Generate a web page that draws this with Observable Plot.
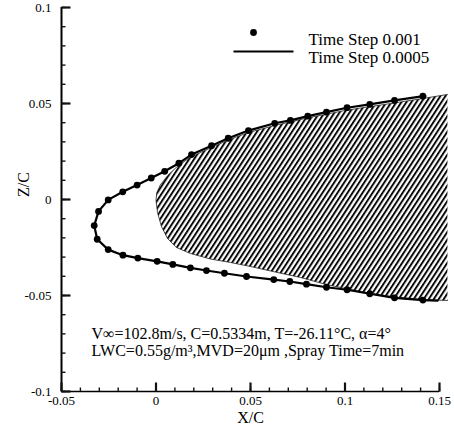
<!DOCTYPE html>
<html><head><meta charset="utf-8">
<script src="https://cdn.jsdelivr.net/npm/d3@7"></script>
<script src="https://cdn.jsdelivr.net/npm/@observablehq/plot@0.6"></script>
<style>
body{margin:0;background:#fff;}
#chart svg{display:block;}
#chart svg text{font-family:'Liberation Serif','Times New Roman',serif;}
</style></head><body><div id="chart"></div>
<script>
// Ice shape, Time Step 0.001 (points)
const iceX = [0.1412, 0.1262, 0.1131, 0.1011, 0.0902, 0.0803, 0.0711, 0.0628, 0.0489, 0.0382, 0.0294, 0.0188, 0.0121, 0.0046, -0.0025, -0.0100, -0.0176, -0.0253, -0.0304, -0.0327, -0.0311, -0.0253, -0.0175, -0.0096, 0.0006, 0.0089, 0.0182, 0.0267, 0.0362, 0.0479, 0.0623, 0.0708, 0.0796, 0.0902, 0.1011, 0.1131, 0.1262, 0.1412];
const iceZ = [0.0538, 0.0516, 0.0495, 0.0478, 0.0455, 0.0434, 0.0412, 0.0397, 0.0359, 0.0319, 0.0280, 0.0234, 0.0189, 0.0147, 0.0112, 0.0075, 0.0040, -0.0002, -0.0062, -0.0136, -0.0207, -0.0261, -0.0290, -0.0305, -0.0322, -0.0338, -0.0356, -0.0370, -0.0384, -0.0401, -0.0417, -0.0427, -0.0441, -0.0457, -0.0470, -0.0491, -0.0512, -0.0524];
// Ice shape, Time Step 0.0005 (line)
const lineX = [0.1425, 0.1262, 0.1131, 0.1011, 0.0902, 0.0803, 0.0711, 0.0628, 0.0489, 0.0382, 0.0294, 0.0188, 0.0121, 0.0046, -0.0025, -0.0100, -0.0176, -0.0253, -0.0304, -0.0327, -0.0311, -0.0253, -0.0175, -0.0096, 0.0006, 0.0089, 0.0182, 0.0267, 0.0362, 0.0479, 0.0623, 0.0708, 0.0796, 0.0902, 0.1011, 0.1131, 0.1262, 0.1412, 0.1490];
const lineZ = [0.0540, 0.0516, 0.0495, 0.0478, 0.0455, 0.0434, 0.0412, 0.0397, 0.0359, 0.0319, 0.0280, 0.0234, 0.0189, 0.0147, 0.0112, 0.0075, 0.0040, -0.0002, -0.0062, -0.0136, -0.0207, -0.0261, -0.0290, -0.0305, -0.0322, -0.0338, -0.0356, -0.0370, -0.0384, -0.0401, -0.0417, -0.0427, -0.0441, -0.0457, -0.0470, -0.0491, -0.0512, -0.0524, -0.0527];
// Clean airfoil (hatched)
const cleanX = [0.1542, 0.1410, 0.1262, 0.1013, 0.0801, 0.0627, 0.0489, 0.0383, 0.0294, 0.0188, 0.0119, 0.0062, 0.0022, 0.0004, 0.0000, 0.0008, 0.0029, 0.0061, 0.0108, 0.0182, 0.0288, 0.0394, 0.0500, 0.0632, 0.0764, 0.0902, 0.1013, 0.1129, 0.1262, 0.1410, 0.1542];
const cleanZ = [0.0547, 0.0526, 0.0503, 0.0466, 0.0425, 0.0385, 0.0349, 0.0310, 0.0271, 0.0224, 0.0178, 0.0125, 0.0075, 0.0035, -0.0005, -0.0068, -0.0141, -0.0203, -0.0250, -0.0281, -0.0310, -0.0328, -0.0349, -0.0378, -0.0406, -0.0443, -0.0466, -0.0487, -0.0508, -0.0521, -0.0526];

const xTicks = [-0.05, 0, 0.05, 0.1, 0.15];
const xTickLabels = ["-0.05", "0", "0.05", "0.1", "0.15"];
const yTicks = [-0.1, -0.05, 0, 0.05, 0.1];
const yTickLabels = ["-0.1", "-0.05", "0", "0.05", "0.1"];
const xLabel = "X/C";
const yLabel = "Z/C";
const legendLabels = ["Time Step 0.001", "Time Step 0.0005"];
const noteLines = ["V\u221E=102.8m/s, C=0.5334m, T=-26.11\u00B0C, \u03B1=4\u00B0", "LWC=0.55g/m\u00B3,MVD=20\u03BCm ,Spray Time=7min"];

const xMinor = d3.ticks(-0.05, 0.15, 20);
const yMinor = d3.ticks(-0.1, 0.1, 20);
const serif = "'Liberation Serif', 'Times New Roman', serif";

const plot = Plot.plot({
  width: 454, height: 430,
  marginLeft: 61, marginRight: 15, marginTop: 7, marginBottom: 39,
  style: {fontFamily: serif, fontSize: "13px", color: "#000", background: "#fff"},
  x: {domain: [-0.05, 0.15]},
  y: {domain: [-0.1, 0.1]},
  marks: [
    Plot.line(cleanX, {x: cleanX, y: cleanZ, fill: "url(#hatch)", stroke: "none"}),
    Plot.line(cleanX, {x: cleanX, y: cleanZ, stroke: "#222", strokeWidth: 0.8}),
    Plot.line(lineX, {x: lineX, y: lineZ, stroke: "#000", strokeWidth: 2.2}),
    Plot.dot(iceX, {x: iceX, y: iceZ, r: 3.4, fill: "#000", stroke: "none"}),
    Plot.ruleX([-0.05], {stroke: "#000", strokeWidth: 2}),
    Plot.ruleY([-0.1], {stroke: "#000", strokeWidth: 1.6}),
    // inward ticks
    Plot.dot(yMinor, {y: d => d, frameAnchor: "left", symbol: {draw(c, s) { c.moveTo(0, 0); c.lineTo(4, 0); }}, r: 4, stroke: "#111", strokeWidth: 1.4}),
    Plot.dot(yTicks, {y: d => d, frameAnchor: "left", symbol: {draw(c, s) { c.moveTo(0, 0); c.lineTo(9, 0); }}, r: 4, stroke: "#111", strokeWidth: 2.2}),
    Plot.dot(xMinor, {x: d => d, frameAnchor: "bottom", symbol: {draw(c, s) { c.moveTo(0, 0); c.lineTo(0, -4); }}, r: 4, stroke: "#111", strokeWidth: 1.4}),
    Plot.dot(xTicks, {x: d => d, frameAnchor: "bottom", symbol: {draw(c, s) { c.moveTo(0, 0); c.lineTo(0, -9); }}, r: 4, stroke: "#111", strokeWidth: 2.2}),
    Plot.axisY(yTicks, {tickSize: 0, tickPadding: 10, label: null, fontSize: 13, fontFamily: serif, tickFormat: d => yTickLabels[yTicks.indexOf(d)]}),
    Plot.axisX(xTicks, {tickSize: 0, tickPadding: 4, label: null, fontSize: 13, fontFamily: serif, tickFormat: d => xTickLabels[xTicks.indexOf(d)]}),
    Plot.text([xLabel], {text: d => d, frameAnchor: "bottom", dy: 31, fontSize: 16, fontFamily: serif}),
    Plot.text([yLabel], {text: d => d, frameAnchor: "left", dx: -38, dy: -2.5, rotate: -90, fontSize: 16, fontFamily: serif}),
    // legend
    Plot.dot([legendLabels[0]], {frameAnchor: "top-left", dx: 192, dy: 25, r: 3.4, fill: "#000", stroke: "none"}),
    Plot.dot([legendLabels[1]], {frameAnchor: "top-left", dx: 172, dy: 44, symbol: {draw(c, s) { c.moveTo(0, 0); c.lineTo(60, 0); }}, r: 4, stroke: "#000", strokeWidth: 2}),
    Plot.text([legendLabels[0]], {text: d => d, frameAnchor: "top-left", dx: 247, dy: 25, textAnchor: "start", fontSize: 17, fontFamily: serif}),
    Plot.text([legendLabels[1]], {text: d => d, frameAnchor: "top-left", dx: 247, dy: 43, textAnchor: "start", fontSize: 17, fontFamily: serif}),
    // annotation
    Plot.text([noteLines[0]], {text: d => d, frameAnchor: "top-left", dx: 30, dy: 320, textAnchor: "start", fontSize: 16, fontFamily: serif}),
    Plot.text([noteLines[1]], {text: d => d, frameAnchor: "top-left", dx: 30, dy: 337, textAnchor: "start", fontSize: 16, fontFamily: serif})
  ]
});

const defs = document.createElementNS("http://www.w3.org/2000/svg", "defs");
defs.innerHTML = '<pattern id="hatch" width="4.2" height="4.2" patternUnits="userSpaceOnUse" patternTransform="rotate(33)"><rect width="4.2" height="4.2" fill="#fff"/><line x1="1" y1="-1" x2="1" y2="5.2" stroke="#000" stroke-width="1.9"/></pattern>';
plot.insertBefore(defs, plot.firstChild);
document.getElementById("chart").appendChild(plot);
</script>
</body></html>
